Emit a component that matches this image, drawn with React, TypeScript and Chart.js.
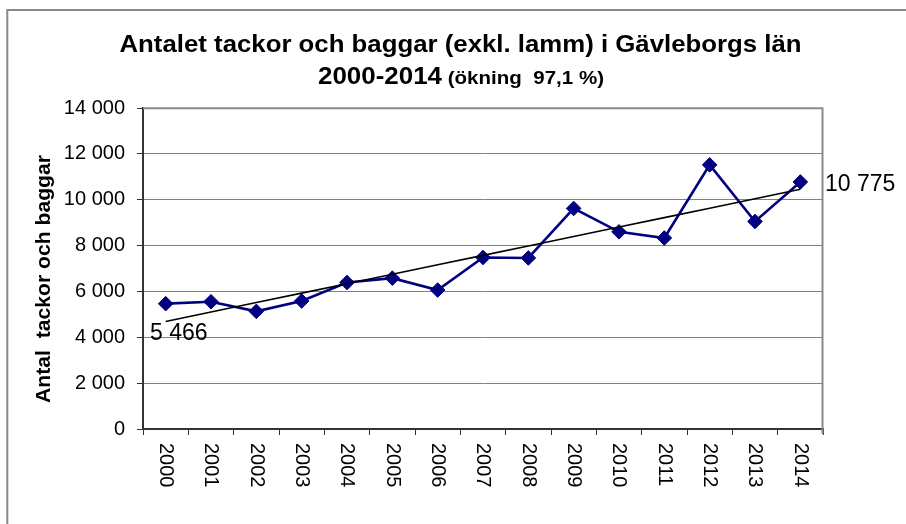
import React, { useEffect, useRef } from "react";
import { Chart, registerables } from "chart.js";

Chart.register(...registerables);

// ---- data ----
const years = ["2000", "2001", "2002", "2003", "2004", "2005", "2006", "2007", "2008", "2009", "2010", "2011", "2012", "2013", "2014"];
const sheepCounts = [5466, 5550, 5130, 5580, 6390, 6580, 6060, 7480, 7460, 9620, 8600, 8330, 11520, 9050, 10775];
const yMin = 0;
const yMax = 14000;
const yStep = 2000;

const titleLine1 = "Antalet tackor och baggar (exkl. lamm) i Gävleborgs län";
const titleLine2Main = "2000-2014";
const titleLine2Note = " (ökning  97,1 %)";
const yAxisTitle = "Antal  tackor och baggar";

const FONT = '"Liberation Sans", Arial, Helvetica, sans-serif';

function fmt(v: number): string {
  return String(Math.round(v)).replace(/\B(?=(\d{3})+(?!\d))/g, " ");
}

function linearTrend(values: number[]): number[] {
  const n = values.length;
  const mx = (n - 1) / 2;
  const my = values.reduce((a, b) => a + b, 0) / n;
  let sxy = 0;
  let sxx = 0;
  values.forEach((v, i) => {
    sxy += (i - mx) * (v - my);
    sxx += (i - mx) * (i - mx);
  });
  const slope = sxy / sxx;
  return values.map((_, i) => my + slope * (i - mx));
}

const decorPlugin = {
  id: "decor",
  beforeDraw(chart: any) {
    const { ctx, width, height } = chart;
    ctx.save();
    ctx.fillStyle = "#ffffff";
    ctx.fillRect(0, 0, width, height);
    ctx.strokeStyle = "#8a8a8a";
    ctx.lineWidth = 2;
    ctx.strokeRect(7.3, 10, width + 50, height + 50);
    ctx.restore();
  },
  afterDraw(chart: any) {
    const { ctx, chartArea: ca, scales } = chart;
    const xs = scales.x;
    const ys = scales.y;
    ctx.save();

    // plot frame (top & right)
    ctx.strokeStyle = "#8a8a8a";
    ctx.lineWidth = 2;
    ctx.beginPath();
    ctx.moveTo(ca.left, ca.top + 0.3);
    ctx.lineTo(ca.right - 0.5, ca.top + 0.3);
    ctx.lineTo(ca.right - 0.5, ca.bottom + 5);
    ctx.stroke();

    ctx.fillStyle = "#000000";

    // title line 1
    ctx.font = `bold 24px ${FONT}`;
    ctx.textBaseline = "alphabetic";
    ctx.textAlign = "left";
    const w1 = ctx.measureText(titleLine1).width;
    const t1Width = 682;
    ctx.save();
    ctx.translate(460.5 - t1Width / 2, 52.3);
    ctx.scale(t1Width / w1, 1);
    ctx.fillText(titleLine1, 0, 0);
    ctx.restore();

    // title line 2 (mixed sizes)
    ctx.font = `bold 24px ${FONT}`;
    const wMain = ctx.measureText(titleLine2Main).width;
    ctx.font = `bold 19px ${FONT}`;
    const wNote = ctx.measureText(titleLine2Note).width;
    const t2Width = 286;
    ctx.save();
    ctx.translate(461 - t2Width / 2, 84.3);
    ctx.scale(t2Width / (wMain + wNote), 1);
    ctx.font = `bold 24px ${FONT}`;
    ctx.fillText(titleLine2Main, 0, 0);
    ctx.font = `bold 19px ${FONT}`;
    ctx.fillText(titleLine2Note, wMain, 0);
    ctx.restore();

    // y axis title
    ctx.font = `bold 21px ${FONT}`;
    const wy = ctx.measureText(yAxisTitle).width;
    const yTitleLen = 248;
    ctx.save();
    ctx.translate(49.5, 279);
    ctx.rotate(-Math.PI / 2);
    ctx.scale(yTitleLen / wy, 1);
    ctx.textAlign = "center";
    ctx.fillText(yAxisTitle, 0, 0);
    ctx.restore();

    // x tick labels (rotated clockwise)
    ctx.font = `20px ${FONT}`;
    years.forEach((yr, i) => {
      const px = xs.getPixelForValue(i);
      ctx.save();
      ctx.translate(px, ca.bottom + 14);
      ctx.rotate(Math.PI / 2);
      ctx.textAlign = "left";
      ctx.textBaseline = "middle";
      ctx.fillText(yr, 0, 0);
      ctx.restore();
    });

    // first / last value labels
    ctx.font = `23px ${FONT}`;
    ctx.textAlign = "left";
    ctx.textBaseline = "alphabetic";
    const n = sheepCounts.length;
    const p0x = xs.getPixelForValue(0);
    const p0y = ys.getPixelForValue(sheepCounts[0]);
    ctx.fillText(fmt(sheepCounts[0]), p0x - 15.7, p0y + 36.3);
    const pnx = xs.getPixelForValue(n - 1);
    const pny = ys.getPixelForValue(sheepCounts[n - 1]);
    ctx.fillText(fmt(sheepCounts[n - 1]), pnx + 24.7, pny + 9);

    ctx.restore();
  },
};

export default function App() {
  const canvasRef = useRef<HTMLCanvasElement | null>(null);

  useEffect(() => {
    if (!canvasRef.current) return;
    const trend = linearTrend(sheepCounts);
    const chart = new Chart(canvasRef.current, {
      type: "line",
      data: {
        labels: years,
        datasets: [
          {
            label: "Trend",
            data: trend,
            borderColor: "#000000",
            borderWidth: 1.6,
            pointRadius: 0,
            pointHoverRadius: 0,
            fill: false,
            tension: 0,
            order: 0,
          },
          {
            label: "Antal tackor och baggar",
            data: sheepCounts,
            borderColor: "#000080",
            backgroundColor: "#000080",
            borderWidth: 2.6,
            pointStyle: "rectRot",
            pointRadius: 7.3,
            pointBorderWidth: 1,
            pointBackgroundColor: "#000080",
            pointBorderColor: "#000080",
            fill: false,
            tension: 0,
            order: 1,
          },
        ],
      },
      options: {
        animation: false,
        responsive: true,
        maintainAspectRatio: false,
        devicePixelRatio: 1,
        layout: { padding: { top: 108, right: 83, left: 0, bottom: 0 } },
        plugins: {
          legend: { display: false },
          title: { display: false },
          tooltip: { enabled: false },
        },
        scales: {
          x: {
            type: "category",
            offset: true,
            grid: {
              display: true,
              drawOnChartArea: false,
              drawTicks: true,
              tickLength: 6,
              offset: true,
              color: "#333333",
              lineWidth: 1,
            },
            border: { display: true, color: "#333333", width: 2 },
            ticks: { display: false },
            afterFit: (scale: any) => {
              scale.height = 95;
            },
          },
          y: {
            min: yMin,
            max: yMax,
            grid: {
              color: "#808080",
              lineWidth: 1,
              drawTicks: true,
              tickLength: 6,
              tickColor: "#333333",
            },
            border: { display: true, color: "#333333", width: 2 },
            ticks: {
              stepSize: yStep,
              color: "#000000",
              font: { family: FONT, size: 20 },
              padding: 12,
              callback: (v: any) => fmt(Number(v)),
            },
            afterFit: (scale: any) => {
              scale.width = 143;
            },
          },
        },
      },
      plugins: [decorPlugin],
    });
    return () => chart.destroy();
  }, []);

  return (
    <div style={{ position: "fixed", left: 0, top: 0, width: 906, height: 524, background: "#fff" }}>
      <canvas ref={canvasRef} />
    </div>
  );
}
